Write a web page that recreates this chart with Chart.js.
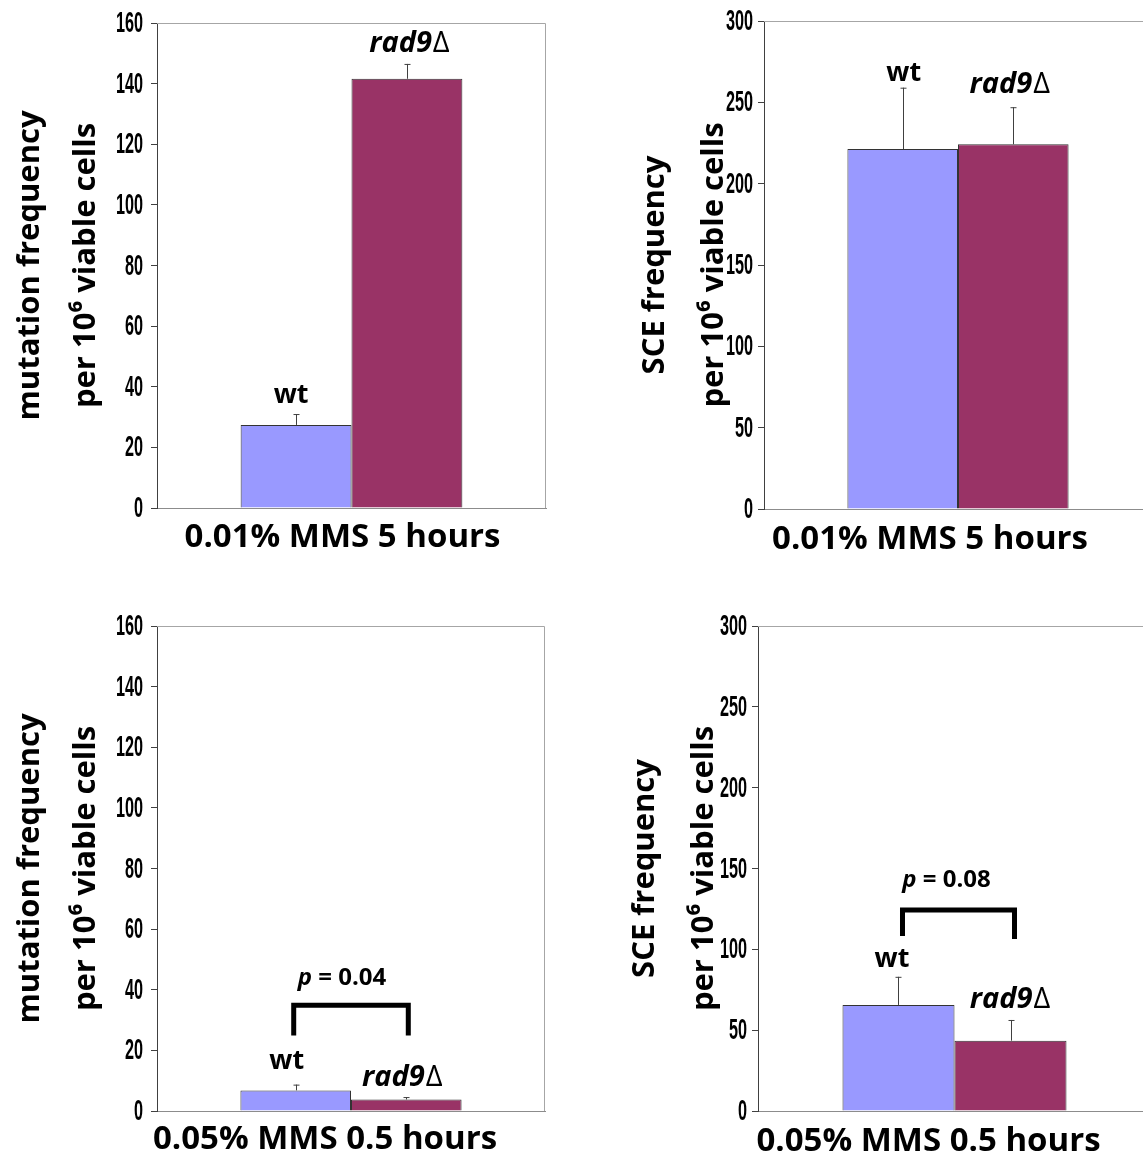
<!DOCTYPE html>
<html>
<head>
<meta charset="utf-8">
<script src="https://cdn.jsdelivr.net/npm/chart.js@4.4.1/dist/chart.umd.min.js"></script>
<style>
  html, body { margin: 0; padding: 0; background: #fff; overflow: hidden; }
  .panel { position: absolute; }
</style>
</head>
<body>
<div class="panel" style="left:0px;top:0px"><canvas id="mut1" width="560" height="570"></canvas></div>
<div class="panel" style="left:620px;top:0px"><canvas id="sce1" width="532" height="570"></canvas></div>
<div class="panel" style="left:0px;top:600px"><canvas id="mut2" width="560" height="561"></canvas></div>
<div class="panel" style="left:610px;top:600px"><canvas id="sce2" width="541" height="561"></canvas></div>
<script>
// data
const strains = ['wt', 'rad9Δ'];
const treatments = ['0.01% MMS 5 hours', '0.05% MMS 0.5 hours'];

const mutWt = [27.4, 6.8];
const mutWtErr = [3.6, 1.9];
const mutRad9 = [141.6, 3.8];
const mutRad9Err = [4.9, 0.8];

const sceWt = [221.3, 65.6];
const sceWtErr = [37.7, 17.4];
const sceRad9 = [224.2, 43.5];
const sceRad9Err = [22.8, 12.8];

const mutAxis = { max: 160, step: 20 };
const sceAxis = { max: 300, step: 50 };
const pValues = ['0.04', '0.08'];

const mutTitle = ['mutation frequency', 'per 10⁶ viable cells'];
const sceTitle = ['SCE frequency', 'per 10⁶ viable cells'];

const WT_COLOR = '#9999ff';
const RAD9_COLOR = '#993366';
const TICK_FONT = "'Liberation Sans', Arial, sans-serif";
const TEXT_FONT = "'Open Sans', 'Noto Sans', sans-serif";

// draws condensed tick labels, frame, error bars, strain labels and p-value bracket
const overlay = {
  id: 'overlay',
  afterDatasetsDraw(chart, args, o) {
    const { ctx, chartArea: a, scales: { y } } = chart;
    ctx.save();
    // light frame top / right
    ctx.strokeStyle = '#a6a6a6';
    ctx.lineWidth = 1;
    ctx.beginPath();
    ctx.moveTo(a.left, a.top + 0.5);
    ctx.lineTo(a.right - 0.5, a.top + 0.5);
    ctx.lineTo(a.right - 0.5, a.bottom);
    ctx.stroke();

    // narrow bold y tick labels
    ctx.fillStyle = '#000';
    ctx.font = 'bold 29px ' + TICK_FONT;
    ctx.textAlign = 'right';
    ctx.textBaseline = 'middle';
    y.ticks.forEach(t => {
      ctx.save();
      ctx.translate(a.left - o.tickGap, y.getPixelForValue(t.value) + 1);
      ctx.scale(0.56, 1);
      ctx.fillText(String(t.value), 0, 0);
      ctx.restore();
    });

    const centers = [];
    chart.data.datasets.forEach((ds, i) => {
      const bar = chart.getDatasetMeta(i).data[0];
      centers.push(bar.x);
      const top = y.getPixelForValue(ds.data[0] + ds.err);
      const x = Math.round(bar.x) + 0.5;
      ctx.strokeStyle = '#404040';
      ctx.lineWidth = 1;
      ctx.beginPath();
      ctx.moveTo(x, bar.y);
      ctx.lineTo(x, top);
      ctx.moveTo(x - 3, top + 0.5);
      ctx.lineTo(x + 3, top + 0.5);
      ctx.stroke();
    });

    ctx.fillStyle = '#000';
    ctx.textBaseline = 'alphabetic';
    ctx.textAlign = 'center';
    // wt label
    ctx.font = 'bold 27px ' + TEXT_FONT;
    ctx.fillText(strains[0], centers[0] + o.wt[0], y.getPixelForValue(o.wt[1]));
    // rad9Δ label: italic rad9 + upright delta
    const rx = centers[1] + o.rad9[0];
    const ry = y.getPixelForValue(o.rad9[1]);
    ctx.font = 'italic bold 29px ' + TEXT_FONT;
    const w1 = ctx.measureText('rad9').width;
    ctx.font = '29px ' + TEXT_FONT;
    const w2 = ctx.measureText('Δ').width;
    ctx.textAlign = 'left';
    ctx.font = 'italic bold 29px ' + TEXT_FONT;
    ctx.fillText('rad9', rx - (w1 + w2) / 2, ry);
    ctx.font = '29px ' + TEXT_FONT;
    ctx.fillText('Δ', rx - (w1 + w2) / 2 + w1 + 1, ry);

    if (o.p) {
      const b = o.bracket;
      const xl = centers[0] + b.dl, xr = centers[1] + b.dr;
      const yt = y.getPixelForValue(b.top);
      ctx.strokeStyle = '#000';
      ctx.lineWidth = 5;
      ctx.lineJoin = 'miter';
      ctx.beginPath();
      ctx.moveTo(xl, y.getPixelForValue(b.legL));
      ctx.lineTo(xl, yt);
      ctx.lineTo(xr, yt);
      ctx.lineTo(xr, y.getPixelForValue(b.legR));
      ctx.stroke();

      const px = (xl + xr) / 2 + b.pdx;
      const py = y.getPixelForValue(b.pText);
      ctx.font = 'italic bold 24px ' + TEXT_FONT;
      const pw = ctx.measureText('p').width;
      ctx.font = 'bold 24px ' + TEXT_FONT;
      const rest = ' = ' + o.p;
      const rw = ctx.measureText(rest).width;
      const start = px - (pw + rw) / 2;
      ctx.font = 'italic bold 24px ' + TEXT_FONT;
      ctx.fillText('p', start, py);
      ctx.font = 'bold 24px ' + TEXT_FONT;
      ctx.fillText(rest, start + pw, py);
    }
    ctx.restore();
  }
};

function makePanel(id, cfg) {
  new Chart(document.getElementById(id), {
    type: 'bar',
    data: {
      labels: [cfg.category],
      datasets: [
        { label: strains[0], data: [cfg.wt], err: cfg.wtErr, backgroundColor: WT_COLOR,
          borderColor: '#333', borderWidth: 1 },
        { label: strains[1], data: [cfg.rad9], err: cfg.rad9Err, backgroundColor: RAD9_COLOR,
          borderColor: '#333', borderWidth: 1 }
      ]
    },
    options: {
      responsive: false,
      animation: false,
      layout: { padding: { left: 0, top: cfg.padTop, right: cfg.padRight, bottom: 0 } },
      plugins: {
        legend: { display: false },
        tooltip: { enabled: false },
        overlay: cfg.notes
      },
      datasets: { bar: { categoryPercentage: 0.57, barPercentage: 1.0 } },
      scales: {
        x: {
          grid: { display: false, drawTicks: false },
          border: { display: true, color: '#8c8c8c', width: 1 },
          ticks: { color: '#000', padding: cfg.xPad, labelOffset: cfg.xShift,
                   font: { family: TEXT_FONT, size: 33, weight: 'bold' } },
          afterFit: s => { s.height = cfg.xHeight; }
        },
        y: {
          min: 0,
          max: cfg.axis.max,
          ticks: { stepSize: cfg.axis.step, color: 'rgba(0,0,0,0)', padding: 7,
                   font: { family: TICK_FONT, size: 18, weight: 'bold' } },
          grid: { display: true, drawOnChartArea: false, drawTicks: true, tickLength: 6, color: '#404040' },
          border: { display: true, color: '#404040', width: 1 },
          title: {
            display: true,
            text: cfg.title,
            color: '#000',
            padding: { top: cfg.titlePad, bottom: 0 },
            font: { family: TEXT_FONT, size: 31, weight: 'bold', lineHeight: cfg.titleLH }
          },
          afterFit: s => { s.width = cfg.yWidth; }
        }
      }
    },
    plugins: [overlay]
  });
}

makePanel('mut1', {
  category: treatments[0], wt: mutWt[0], wtErr: mutWtErr[0], rad9: mutRad9[0], rad9Err: mutRad9Err[0],
  axis: mutAxis, title: mutTitle, titleLH: 1.78, titlePad: 3,
  yWidth: 157, padTop: 23, padRight: 14, xHeight: 62, xPad: 10, xShift: -9,
  notes: { wt: [-5, 34.6], rad9: [2, 150.4], p: null, tickGap: 14 }
});

makePanel('sce1', {
  category: treatments[0], wt: sceWt[0], wtErr: sceWtErr[0], rad9: sceRad9[0], rad9Err: sceRad9Err[0],
  axis: sceAxis, title: sceTitle, titleLH: 1.92, titlePad: 5,
  yWidth: 144, padTop: 21, padRight: 0, xHeight: 61, xPad: 11, xShift: -28,
  notes: { wt: [1, 263.1], rad9: [-4, 255.6], p: null, tickGap: 11 }
});

makePanel('mut2', {
  category: treatments[1], wt: mutWt[1], wtErr: mutWtErr[1], rad9: mutRad9[1], rad9Err: mutRad9Err[1],
  axis: mutAxis, title: mutTitle, titleLH: 1.78, titlePad: 3,
  yWidth: 157, padTop: 26, padRight: 15, xHeight: 50, xPad: 9, xShift: -26,
  notes: { wt: [-9, 13.7], rad9: [-4.5, 8.4], p: pValues[0], tickGap: 14,
           bracket: { dl: -2, dr: 2, top: 34.9, legL: 24.9, legR: 24.9, pText: 41.7, pdx: -9 } }
});

makePanel('sce2', {
  category: treatments[1], wt: sceWt[1], wtErr: sceWtErr[1], rad9: sceRad9[1], rad9Err: sceRad9Err[1],
  axis: sceAxis, title: sceTitle, titleLH: 1.92, titlePad: 5,
  yWidth: 148, padTop: 26, padRight: 0, xHeight: 50, xPad: 11, xShift: -26,
  notes: { wt: [-6.5, 89.3], rad9: [-1, 63.7], p: pValues[1], tickGap: 11,
           bracket: { dl: 4, dr: 4, top: 124.3, legL: 108.2, legR: 106.4, pText: 138.7, pdx: -12 } }
});
</script>
</body>
</html>
